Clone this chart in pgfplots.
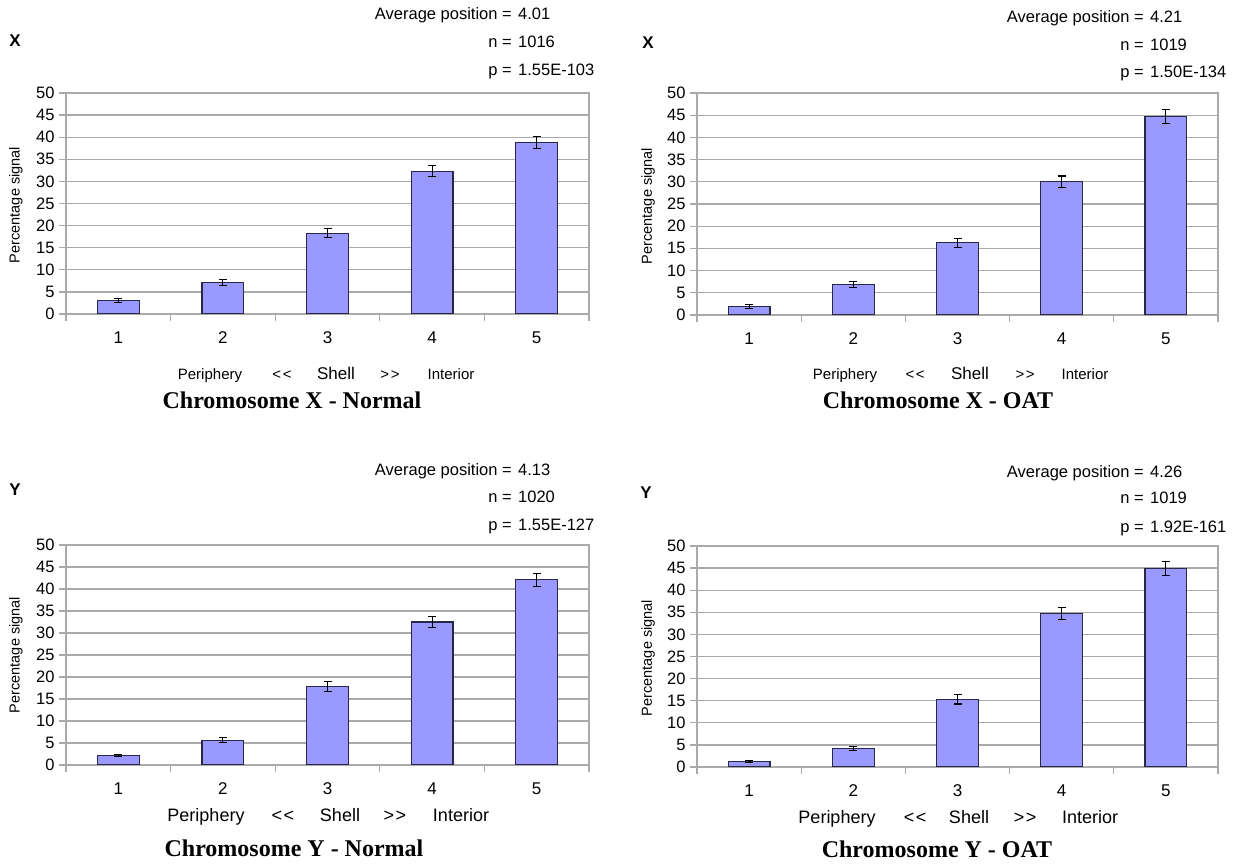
\documentclass[border=0pt]{standalone}
\usepackage{pgfplots}
\pgfplotsset{compat=1.18}
\usepackage{fontspec}
\setmainfont{Liberation Sans}
\newfontfamily\serifb{Liberation Serif}
\definecolor{barfill}{RGB}{153,153,255}
\definecolor{baredge}{RGB}{40,40,70}
\definecolor{gridc}{RGB}{170,170,170}
\newcommand\fs[1]{\fontsize{#1}{#1}\selectfont}
\newcommand\lsh{<\kern1.5pt<}
\newcommand\rsh{>\kern1.5pt>}
\pgfplotsset{
  panel/.style={
    scale only axis, anchor=south west,
    xmin=0.5, xmax=5.5, ymin=0, ymax=50,
    xtick={1,2,3,4,5}, ytick={0,5,...,50},
    minor xtick={0.5,1.5,...,5.5},
    minor ytick={0,5,...,50},
    tick pos=left, tick align=outside,
    major tick length=0pt, minor tick length=7pt,
    ymajorgrids, grid style={gridc, line width=1.3pt},
    axis line style={gridc, line width=1.3pt},
    every tick/.style={gridc, line width=1.3pt},
    yticklabel style={font=\fs{16.5}, black, xshift=-8pt},
    xticklabel style={font=\fs{17}, black, yshift=-14pt},
    /pgf/number format/assume math mode=true,
    ybar, bar width=0.4,
  },
  barsty/.style={fill=barfill, draw=baredge, line width=1.2pt,
    error bars/.cd, y dir=both, y explicit,
    error bar style={black, line width=1.1pt},
    error mark options={black, line width=1.1pt, mark size=4pt, rotate=90}},
}
\begin{document}
\begin{tikzpicture}[x=1pt,y=1pt]
\path[use as bounding box] (0,0) rectangle (1234,864);
% ---------- top left
\begin{axis}[panel, at={(66pt,550pt)}, width=523pt, height=221pt]
\addplot[barsty] coordinates {(1,3.0) +- (0,0.45) (2,7.2) +- (0,0.7) (3,18.3) +- (0,1.05) (4,32.3) +- (0,1.2) (5,38.8) +- (0,1.45)};
\end{axis}
% ---------- top right
\begin{axis}[panel, at={(697pt,549pt)}, width=521pt, height=222pt]
\addplot[barsty] coordinates {(1,1.9) +- (0,0.45) (2,6.9) +- (0,0.7) (3,16.3) +- (0,1.0) (4,30.0) +- (0,1.3) (5,44.7) +- (0,1.6)};
\end{axis}
% ---------- bottom left
\begin{axis}[panel, at={(66pt,99pt)}, width=523pt, height=220pt]
\addplot[barsty] coordinates {(1,2.2) +- (0,0.25) (2,5.6) +- (0,0.55) (3,17.8) +- (0,1.1) (4,32.5) +- (0,1.3) (5,42.1) +- (0,1.45)};
\end{axis}
% ---------- bottom right
\begin{axis}[panel, at={(697pt,97pt)}, width=521pt, height=221pt]
\addplot[barsty] coordinates {(1,1.2) +- (0,0.2) (2,4.2) +- (0,0.45) (3,15.3) +- (0,1.05) (4,34.7) +- (0,1.35) (5,44.9) +- (0,1.55)};
\end{axis}
% ---------- panel letters
\node[font=\fs{17}\bfseries] at (15,823) {X};
\node[font=\fs{17}\bfseries] at (648,821) {X};
\node[font=\fs{17}\bfseries] at (15,374) {Y};
\node[font=\fs{17}\bfseries] at (646,371) {Y};
% ---------- y labels
\node[font=\fs{14.5}, rotate=90] at (16,659) {Percentage signal};
\node[font=\fs{14.5}, rotate=90] at (648,658) {Percentage signal};
\node[font=\fs{14.5}, rotate=90] at (16,209) {Percentage signal};
\node[font=\fs{14.5}, rotate=90] at (648,206) {Percentage signal};
% ---------- annotations
\begin{scope}[every node/.style={font=\fs{16.5}, inner sep=0pt}]
\node[anchor=base east] at (512,844) {Average position =}; \node[anchor=base west] at (518,844) {4.01};
\node[anchor=base east] at (512,816) {n =}; \node[anchor=base west] at (518,816) {1016};
\node[anchor=base east] at (512,788) {p =}; \node[anchor=base west] at (518,788) {1.55E-103};
\node[anchor=base east] at (1144,841) {Average position =}; \node[anchor=base west] at (1150,841) {4.21};
\node[anchor=base east] at (1144,813) {n =}; \node[anchor=base west] at (1150,813) {1019};
\node[anchor=base east] at (1144,786) {p =}; \node[anchor=base west] at (1150,786) {1.50E-134};
\node[anchor=base east] at (512,388) {Average position =}; \node[anchor=base west] at (518,388) {4.13};
\node[anchor=base east] at (512,361) {n =}; \node[anchor=base west] at (518,361) {1020};
\node[anchor=base east] at (512,333) {p =}; \node[anchor=base west] at (518,333) {1.55E-127};
\node[anchor=base east] at (1144,386) {Average position =}; \node[anchor=base west] at (1150,386) {4.26};
\node[anchor=base east] at (1144,360) {n =}; \node[anchor=base west] at (1150,360) {1019};
\node[anchor=base east] at (1144,331) {p =}; \node[anchor=base west] at (1150,331) {1.92E-161};
\end{scope}
% ---------- shell rows
\begin{scope}[every node/.style={font=\fs{15}, inner sep=0pt, anchor=base}]
\node at (210,484) {Periphery}; \node at (282,484) {\lsh}; \node[font=\fs{17}] at (336,484) {Shell}; \node at (390,484) {\rsh}; \node at (451,484) {Interior};
\node at (845,484) {Periphery}; \node at (915,484) {\lsh}; \node[font=\fs{17}] at (970,484) {Shell}; \node at (1025,484) {\rsh}; \node at (1085,484) {Interior};
\end{scope}
\begin{scope}[every node/.style={font=\fs{18}, inner sep=0pt, anchor=base}]
\node at (206,42) {Periphery}; \node at (283,42) {\lsh}; \node at (340,42) {Shell}; \node at (395,42) {\rsh}; \node at (461,42) {Interior};
\node at (837,40) {Periphery}; \node at (915,40) {\lsh}; \node at (969,40) {Shell}; \node at (1025,40) {\rsh}; \node at (1090,40) {Interior};
\end{scope}
% ---------- titles
\begin{scope}[every node/.style={font=\serifb\bfseries\fs{24}, inner sep=0pt, anchor=base}]
\node at (292,455) {Chromosome X - Normal};
\node at (938,455) {Chromosome X - OAT};
\node at (294,7) {Chromosome Y - Normal};
\node at (937,6) {Chromosome Y - OAT};
\end{scope}
\end{tikzpicture}
\end{document}
